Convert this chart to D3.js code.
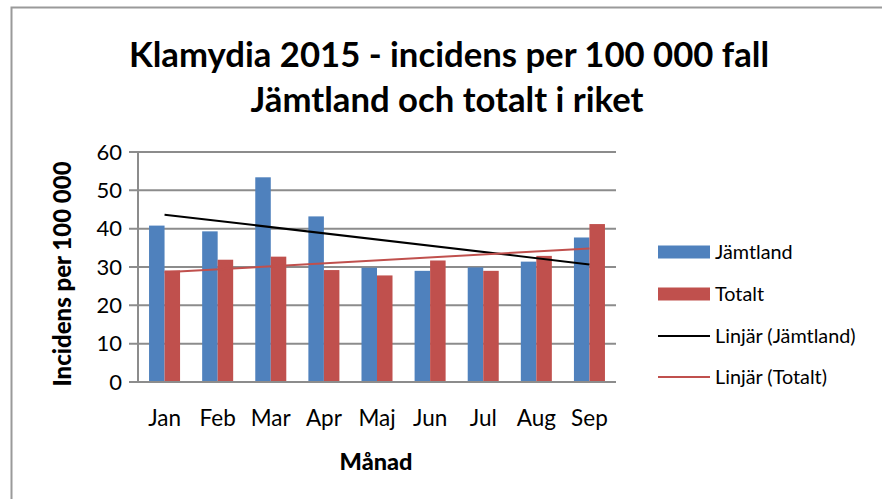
<!DOCTYPE html>
<html>
<head>
<meta charset="utf-8">
<script src="https://cdn.jsdelivr.net/npm/d3@7"></script>
<style>
  body { margin: 0; background: #fff; }
  text { font-family: Lato, "Open Sans", sans-serif; fill: #000; }
</style>
</head>
<body>
<script>
// data
const months = ["Jan", "Feb", "Mar", "Apr", "Maj", "Jun", "Jul", "Aug", "Sep"];
const jamtland = [40.8, 39.3, 53.4, 43.2, 29.8, 29.0, 29.9, 31.4, 37.7];
const totalt = [29.1, 31.9, 32.7, 29.2, 27.8, 31.7, 29.0, 32.9, 41.2];
const seriesNames = ["Jämtland", "Totalt"];
const trendNames = ["Linjär (Jämtland)", "Linjär (Totalt)"];
const yTicks = [0, 10, 20, 30, 40, 50, 60];

const colors = { bar: ["#4F81BD", "#C0504D"], trend: ["#000000", "#C0504D"] };

const W = 882, H = 499;
const plot = { left: 138, right: 616, top: 152, bottom: 382 };

const svg = d3.select("body").append("svg")
  .attr("width", W).attr("height", H);

// chart border (only left/top visible in the frame)
svg.append("rect")
  .attr("x", 11.5).attr("y", 7.5)
  .attr("width", W + 20).attr("height", H + 20)
  .attr("fill", "#fff").attr("stroke", "#9a9a9a").attr("stroke-width", 2);

// title
const title = svg.append("text")
  .attr("text-anchor", "middle")
  .style("font-weight", "bold").style("font-size", "34.7px");
title.append("tspan").attr("x", 449).attr("y", 67).text("Klamydia 2015 - incidens per 100 000 fall");
title.append("tspan").attr("x", 447).attr("y", 112).text("Jämtland och totalt i riket");

const x = d3.scaleBand().domain(months)
  .range([plot.left, plot.right])
  .paddingInner(0.416).paddingOuter(0.208);
const xSub = d3.scaleBand().domain(seriesNames).range([0, x.bandwidth()]);
const y = d3.scaleLinear().domain([0, 60]).range([plot.bottom, plot.top]);

// gridlines + tick marks
svg.append("g").selectAll("line").data(yTicks).join("line")
  .attr("x1", plot.left - 9).attr("x2", plot.right)
  .attr("y1", d => y(d)).attr("y2", d => y(d))
  .attr("stroke", "#8c8c8c").attr("stroke-width", 2);

// y axis line
svg.append("line")
  .attr("x1", plot.left).attr("x2", plot.left)
  .attr("y1", plot.top).attr("y2", plot.bottom)
  .attr("stroke", "#8c8c8c").attr("stroke-width", 2);

// y tick labels
svg.append("g").selectAll("text").data(yTicks).join("text")
  .attr("x", 122).attr("y", d => y(d))
  .attr("dy", "0.35em").attr("text-anchor", "end")
  .style("font-size", "22px")
  .text(d => d);

// bars
const series = [jamtland, totalt];
series.forEach((vals, si) => {
  svg.append("g").selectAll("rect").data(vals).join("rect")
    .attr("x", (d, i) => x(months[i]) + xSub(seriesNames[si]))
    .attr("width", xSub.bandwidth())
    .attr("y", d => y(d))
    .attr("height", d => y(0) - y(d))
    .attr("fill", colors.bar[si]);
});

// x axis line
svg.append("line")
  .attr("x1", plot.left).attr("x2", plot.right)
  .attr("y1", plot.bottom).attr("y2", plot.bottom)
  .attr("stroke", "#8c8c8c").attr("stroke-width", 2);

// x labels
svg.append("g").selectAll("text").data(months).join("text")
  .attr("x", d => x(d) + x.bandwidth() / 2).attr("y", 426)
  .attr("text-anchor", "middle").style("font-size", "22.5px")
  .text(d => d);

// linear trendlines (least squares on the series)
function linFit(vals) {
  const xs = vals.map((d, i) => i + 1);
  const mx = d3.mean(xs), my = d3.mean(vals);
  const slope = d3.sum(xs, (xi, i) => (xi - mx) * (vals[i] - my)) / d3.sum(xs, xi => (xi - mx) ** 2);
  return i => my + slope * (i + 1 - mx);
}
series.forEach((vals, si) => {
  const f = linFit(vals);
  const line = d3.line()
    .x(i => x(months[i]) + x.bandwidth() / 2)
    .y(i => y(f(i)));
  svg.append("path")
    .attr("d", line([0, months.length - 1]))
    .attr("fill", "none")
    .attr("stroke", colors.trend[si])
    .attr("stroke-width", 2);
});

// axis titles
svg.append("text")
  .attr("x", 376).attr("y", 470)
  .attr("text-anchor", "middle")
  .style("font-weight", "900").style("font-size", "23.5px")
  .text("Månad");
svg.append("text")
  .attr("transform", "translate(71,274) rotate(-90)")
  .attr("text-anchor", "middle")
  .style("font-weight", "900").style("font-size", "24px")
  .text("Incidens per 100 000");

// legend
const legend = svg.append("g");
const legY = [252, 294, 336, 377];
seriesNames.forEach((name, i) => {
  legend.append("rect")
    .attr("x", 658).attr("y", legY[i] - 6.5)
    .attr("width", 52).attr("height", 13)
    .attr("fill", colors.bar[i]);
  legend.append("text")
    .attr("x", 715).attr("y", legY[i]).attr("dy", "0.35em")
    .style("font-size", "19.8px").text(name);
});
trendNames.forEach((name, i) => {
  legend.append("line")
    .attr("x1", 658).attr("x2", 710)
    .attr("y1", legY[i + 2]).attr("y2", legY[i + 2])
    .attr("stroke", colors.trend[i]).attr("stroke-width", 2);
  legend.append("text")
    .attr("x", 715).attr("y", legY[i + 2]).attr("dy", "0.35em")
    .style("font-size", "19.8px").text(name);
});
</script>
</body>
</html>
